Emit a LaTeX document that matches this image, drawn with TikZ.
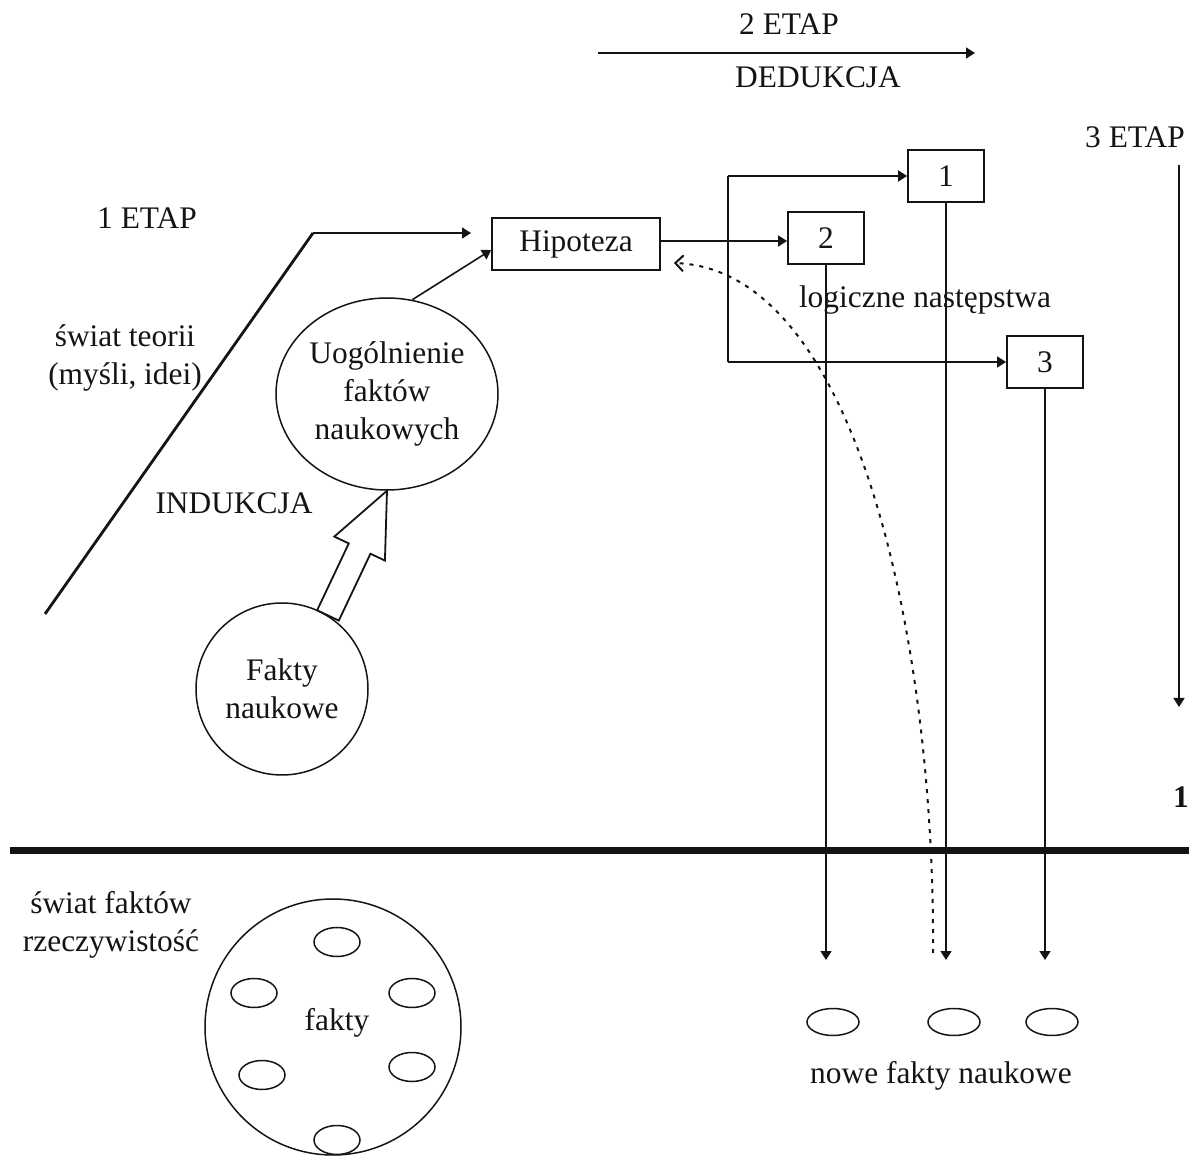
\documentclass[tikz,border=0pt]{standalone}
\usepackage{fontspec}
\setmainfont{Liberation Serif}
\usepackage{tikz}
\usetikzlibrary{arrows.meta,positioning,calc,shapes.geometric}
\definecolor{ink}{RGB}{20,20,20}
\tikzset{
  txt/.style={font=\fontsize{15.7}{18.8}\selectfont, inner sep=0pt,
              align=center, text=ink},
  stepbox/.style={txt, rectangle, draw=ink, line width=0.9pt,
                  minimum width=38pt, minimum height=26pt},
  oval/.style={txt, ellipse, draw=ink, line width=0.75pt},
  thin/.style={line width=0.8pt, draw=ink},
  arr/.style={thin, -{Triangle[length=4.5pt,width=5.5pt]}},
  back/.style={line width=1pt, draw=ink, dash pattern=on 2pt off 3pt,
               -{Straight Barb[length=4pt,width=8pt]}},
}
\begin{document}
\begin{tikzpicture}[x=0.5pt, y=-0.5pt]
  \useasboundingbox (0,0) rectangle (1189,1159);

  % stage labels
  \node[txt] (etap2) at (789,24) {2 ETAP};
  \node[txt] (ded) at (818,77) {DEDUKCJA};
  \coordinate (dl) at (598,53);
  \coordinate (dr) at (975,53);
  \draw[arr] (dl) -- (dr);

  \node[txt] (etap3) at (1135,137) {3 ETAP};
  \coordinate (vt) at (1179,165);
  \coordinate (vb) at (1179,707);
  \draw[arr] (vt) -- (vb);
  \node[txt, font=\fontsize{15.7}{18.8}\selectfont\bfseries] (lvl) at (1181,797) {1};

  \node[txt] (etap1) at (147,218) {1 ETAP};
  \node[txt] (teoria) at (125,358) {świat teorii\\(myśli, idei)};
  \node[txt] (ind) at (234,503) {INDUKCJA};

  % induction side
  \node[stepbox, minimum width=84pt] (hip) at (576,244) {Hipoteza};
  \node[oval, minimum width=111pt, minimum height=96pt] (uog) at (387,394)
       {Uogólnienie\\faktów\\naukowych};
  \node[oval, minimum size=86pt] (fakty) at (282,689) {Fakty\\naukowe};

  \coordinate (tb) at (45,614);
  \coordinate (tk) at (313,233);
  \coordinate (te) at (471,233);
  \draw[line width=1.4pt, ink] (tb) -- (tk);
  \draw[arr] (tk) -- (te);
  \draw[arr] (uog.75) -- ($(hip.west)+(0,6)$);

  % fat arrow
  \coordinate (fa) at (fakty.58);
  \coordinate (fb) at (uog.south);
  \coordinate (fn) at ($(fb)!32pt!(fa)$);
  \draw[line width=0.9pt, ink, line join=miter]
       ($(fa)!6pt!90:(fb)$) -- ($(fn)!6pt!90:(fb)$) -- ($(fn)!14pt!90:(fb)$)
       -- (fb) -- ($(fn)!14pt!-90:(fb)$) -- ($(fn)!6pt!-90:(fb)$)
       -- ($(fa)!6pt!-90:(fb)$) -- cycle;

  % deduction side
  \node[stepbox] (b1) at (946,176) {1};
  \node[stepbox] (b2) at (826,238) {2};
  \node[stepbox] (b3) at (1045,362) {3};
  \coordinate (split) at (728,241);
  \node[txt] (log) at (925,300) {logiczne następstwa};

  \draw[thin] (hip.east |- split) -- (split);
  \draw[arr] (split) -- (split -| b2.west);
  \draw[thin] (split |- b1.west) -- (split |- b3.west);
  \draw[arr] (split |- b1.west) -- (b1.west);
  \draw[arr] (split |- b3.west) -- (b3.west);

  \coordinate (tips) at (0,960);
  \draw[arr] (b2.south) -- (b2.south |- tips);
  \draw[arr] (b1.south) -- (b1.south |- tips);
  \draw[arr] (b3.south) -- (b3.south |- tips);

  \coordinate (rs) at (933,953);
  \draw[back] (rs) .. controls (935,650) and (860,270) .. ($(hip.east)+(13,19)$);

  % border between worlds
  \coordinate (gl) at (10,851);
  \coordinate (gr) at (1189,851);
  \draw[line width=3.5pt, ink] (gl) -- (gr);

  % world of facts
  \node[txt] (swf) at (111,925) {świat faktów\\rzeczywistość};
  \node[oval, minimum size=128pt] (all) at (333,1027) {};
  \node[txt] (fk) at (337,1023) {fakty};
  \foreach \p [count=\i] in {(337,942),(254,993),(412,993),(262,1075),(412,1067),(337,1140)}
    \node[oval, minimum width=23pt, minimum height=14.5pt] (f\i) at \p {};

  \foreach \x [count=\i] in {833,954,1052}
    \node[oval, minimum width=26pt, minimum height=13.5pt] (n\i) at (\x,1022) {};
  \node[txt] (nowe) at (941,1076) {nowe fakty naukowe};
\end{tikzpicture}
\end{document}
